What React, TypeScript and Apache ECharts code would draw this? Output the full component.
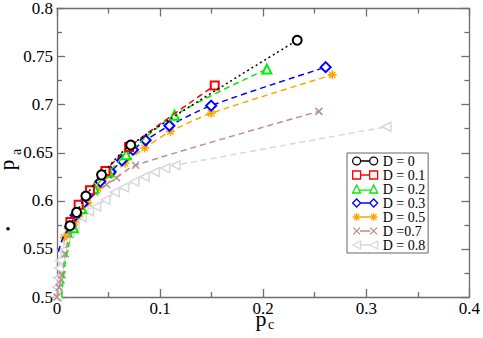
import React, { useEffect, useRef } from "react";
import * as echarts from "echarts";

// ---- data (p_c, p_a) ----
const seriesNames = ["D = 0", "D = 0.1", "D = 0.2", "D = 0.3", "D = 0.5", "D =0.7", "D = 0.8"];

const d0 = [
  [0.0126, 0.574], [0.019, 0.588], [0.028, 0.605], [0.0432, 0.627], [0.0715, 0.658], [0.233, 0.767],
];
const d01 = [
  [0.013, 0.578], [0.021, 0.596], [0.032, 0.611], [0.047, 0.631], [0.07, 0.656], [0.153, 0.72],
];
const d02 = [
  [0.0045, 0.5], [0.006, 0.518], [0.0077, 0.533], [0.011, 0.553], [0.016, 0.572], [0.024, 0.592],
  [0.036, 0.613], [0.05, 0.63], [0.067, 0.648], [0.114, 0.689], [0.2036, 0.737],
];
const d03 = [
  [0.0013, 0.547], [0.003, 0.553], [0.006, 0.562], [0.0126, 0.573], [0.018, 0.585], [0.025, 0.597],
  [0.033, 0.609], [0.042, 0.62], [0.052, 0.63], [0.063, 0.642], [0.0737, 0.653], [0.086, 0.663],
  [0.109, 0.678], [0.1495, 0.699], [0.2606, 0.739],
];
const d05 = [
  [0.007, 0.562], [0.011, 0.571], [0.017, 0.578], [0.022, 0.586], [0.03, 0.598], [0.04, 0.613],
  [0.053, 0.628], [0.066, 0.639], [0.085, 0.655], [0.11, 0.672], [0.1495, 0.691], [0.267, 0.731],
];
const d07 = [
  [0, 0.5], [0.002, 0.51], [0.004, 0.518], [0.005, 0.523], [0.008, 0.545], [0.012, 0.565],
  [0.016, 0.577], [0.022, 0.589], [0.029, 0.6], [0.0367, 0.609], [0.048, 0.617], [0.0577, 0.624],
  [0.0763, 0.637], [0.254, 0.693],
];
const d08 = [
  [0, 0.5], [0.0005, 0.51], [0.001, 0.52], [0.002, 0.53], [0.003, 0.538], [0.005, 0.548],
  [0.008, 0.558], [0.012, 0.567], [0.017, 0.575], [0.024, 0.583], [0.031, 0.589], [0.038, 0.594],
  [0.047, 0.601], [0.056, 0.609], [0.065, 0.614], [0.075, 0.62], [0.085, 0.625], [0.095, 0.63],
  [0.105, 0.634], [0.115, 0.637], [0.3195, 0.677],
];

const xTickMin = 0;
const xTickMax = 0.4;
const xTickStep = 0.1;
const yTickMin = 0.5;
const yTickMax = 0.8;
const yTickStep = 0.05;

const FONT = "Liberation Serif";
const AXIS = "#6e6e6e";

const STAR = "path://M5,0L5,10M0,5L10,5M1.5,1.5L8.5,8.5M8.5,1.5L1.5,8.5";
const CROSS = "path://M0,0L10,10M10,0L0,10";
const LTRI = "path://M0,5L10,0L10,10Z";

// legend icons: two markers joined by a short line
const LI_CIRCLE = "path://M1,4.5A3.5,3.5 0 1 0 8,4.5A3.5,3.5 0 1 0 1,4.5ZM16,4.5A3.5,3.5 0 1 0 23,4.5A3.5,3.5 0 1 0 16,4.5ZM8,4.5L16,4.5";
const LI_RECT = "path://M1,1L8,1L8,8L1,8ZM16,1L23,1L23,8L16,8ZM8,4.5L16,4.5";
const LI_TRI = "path://M1,8L4.5,1L8,8ZM16,8L19.5,1L23,8ZM7,5.5L17,5.5";
const LI_DIAM = "path://M1,4.5L4.5,1L8,4.5L4.5,8ZM16,4.5L19.5,1L23,4.5L19.5,8ZM8,4.5L16,4.5";
const LI_STAR = "path://M4.5,1L4.5,8M1,4.5L8,4.5M2,2L7,7M7,2L2,7M19.5,1L19.5,8M16,4.5L23,4.5M17,2L22,7M22,2L17,7M8,4.5L16,4.5";
const LI_CROSS = "path://M1.5,1.5L7.5,7.5M7.5,1.5L1.5,7.5M16.5,1.5L22.5,7.5M22.5,1.5L16.5,7.5M1,1M23,8M7.5,4.5L16.5,4.5";
const LI_LTRI = "path://M1,4.5L8,1L8,8ZM16,4.5L23,1L23,8ZM8,4.5L16,4.5";

const colors = ["#000000", "#ff0000", "#00ee00", "#0000ff", "#ffa500", "#bc8f8f", "#d8d8d8"];
const legendIcons = [LI_CIRCLE, LI_RECT, LI_TRI, LI_DIAM, LI_STAR, LI_CROSS, LI_LTRI];

function mkSeries(name: string, data: number[][], color: string, symbol: string, size: number, lineType: any, fill: string, z: number, noMarkerCount = 0) {
  return {
    name,
    type: "line",
    data: data.map((p, i) => (i < noMarkerCount ? { value: p, symbol: "none" } : p)),
    smooth: 0.3,
    symbol,
    symbolSize: size,
    showAllSymbol: true,
    z,
    itemStyle: { color: fill, borderColor: color, borderWidth: 1.5 },
    lineStyle: { color, width: 1.5, type: lineType },
    emphasis: { disabled: true },
  };
}

export default function App() {
  const ref = useRef<HTMLDivElement>(null);
  useEffect(() => {
    if (!ref.current) return;
    const chart = echarts.init(ref.current, undefined, { renderer: "svg" });
    const tickLine = { color: AXIS, width: 1.3 };
    const fmt = (v: number) => String(+v.toFixed(2));
    const xBase = {
      type: "value",
      min: xTickMin,
      max: xTickMax,
      interval: xTickStep,
      axisLine: { show: true, onZero: false, lineStyle: tickLine },
      axisTick: { show: true, inside: true, length: 8, lineStyle: tickLine },
      minorTick: { show: true, splitNumber: 2, length: 5, lineStyle: tickLine },
      splitLine: { show: false },
    };
    const yBase = {
      type: "value",
      min: yTickMin,
      max: yTickMax,
      interval: yTickStep,
      axisLine: { show: true, onZero: false, lineStyle: tickLine },
      axisTick: { show: true, inside: true, length: 8, lineStyle: tickLine },
      minorTick: { show: true, splitNumber: 2, length: 5, lineStyle: tickLine },
      splitLine: { show: false },
    };
    const dash = [6, 4];
    chart.setOption({
      animation: false,
      backgroundColor: "#fff",
      textStyle: { fontFamily: FONT },
      grid: { left: 57, top: 7, right: 11, bottom: 41 },
      xAxis: [
        { ...xBase, position: "bottom", axisLabel: { color: "#000", fontSize: 17, fontFamily: FONT, margin: 3, formatter: fmt } },
        { ...xBase, position: "top", axisLabel: { show: false } },
      ],
      yAxis: [
        { ...yBase, position: "left", axisLabel: { color: "#000", fontSize: 17, fontFamily: FONT, margin: 4, formatter: fmt } },
        { ...yBase, position: "right", axisLabel: { show: false } },
      ],
      legend: {
        orient: "vertical",
        left: 347,
        top: 153,
        data: seriesNames.map((n, i) => ({
          name: n,
          icon: legendIcons[i],
          itemStyle: { color: "rgba(255,255,255,0)", borderColor: colors[i], borderWidth: 1.3 },
        })),
        itemWidth: 25,
        itemHeight: 9,
        itemGap: 0,
        padding: [1, 3, 1, 5],
        borderColor: "#666",
        borderWidth: 1,
        backgroundColor: "#fff",
        textStyle: { fontFamily: FONT, fontSize: 14, lineHeight: 14, color: "#000" },
      },
      graphic: [
        { type: "text", x: 7, y: 165, rotation: Math.PI / 2, style: { text: "p", font: `21px "${FONT}"`, fill: "#000", textAlign: "center", textVerticalAlign: "middle" } },
        { type: "text", x: 16, y: 152, rotation: Math.PI / 2, style: { text: "a", font: `14px "${FONT}"`, fill: "#000", textAlign: "center", textVerticalAlign: "middle" } },
        { type: "text", x: 261, y: 318, style: { text: "p", font: `22px "${FONT}"`, fill: "#000", textAlign: "center", textVerticalAlign: "middle" } },
        { type: "text", x: 271, y: 324, style: { text: "c", font: `14px "${FONT}"`, fill: "#000", textAlign: "center", textVerticalAlign: "middle" } },
        { type: "text", x: 8, y: 229, style: { text: "•", font: `14px "${FONT}"`, fill: "#000", textAlign: "center", textVerticalAlign: "middle" } },
      ],
      series: [
        mkSeries(seriesNames[6], d08, colors[6], LTRI, 9, dash, "#fff", 2),
        mkSeries(seriesNames[5], d07, colors[5], CROSS, 7, dash, colors[5], 3),
        mkSeries(seriesNames[4], d05, colors[4], STAR, 9, dash, colors[4], 4),
        mkSeries(seriesNames[3], d03, colors[3], "emptyDiamond", 10, dash, colors[3], 5, 3),
        mkSeries(seriesNames[2], d02, colors[2], "emptyTriangle", 9, dash, colors[2], 6, 4),
        mkSeries(seriesNames[1], d01, colors[1], "emptyRect", 8, dash, colors[1], 7),
        mkSeries(seriesNames[0], d0, colors[0], "emptyCircle", 9, [2, 3], colors[0], 8),
      ],
    });
    return () => chart.dispose();
  }, []);
  return <div ref={ref} style={{ position: "fixed", left: 0, top: 0, width: 483, height: 338 }} />;
}
